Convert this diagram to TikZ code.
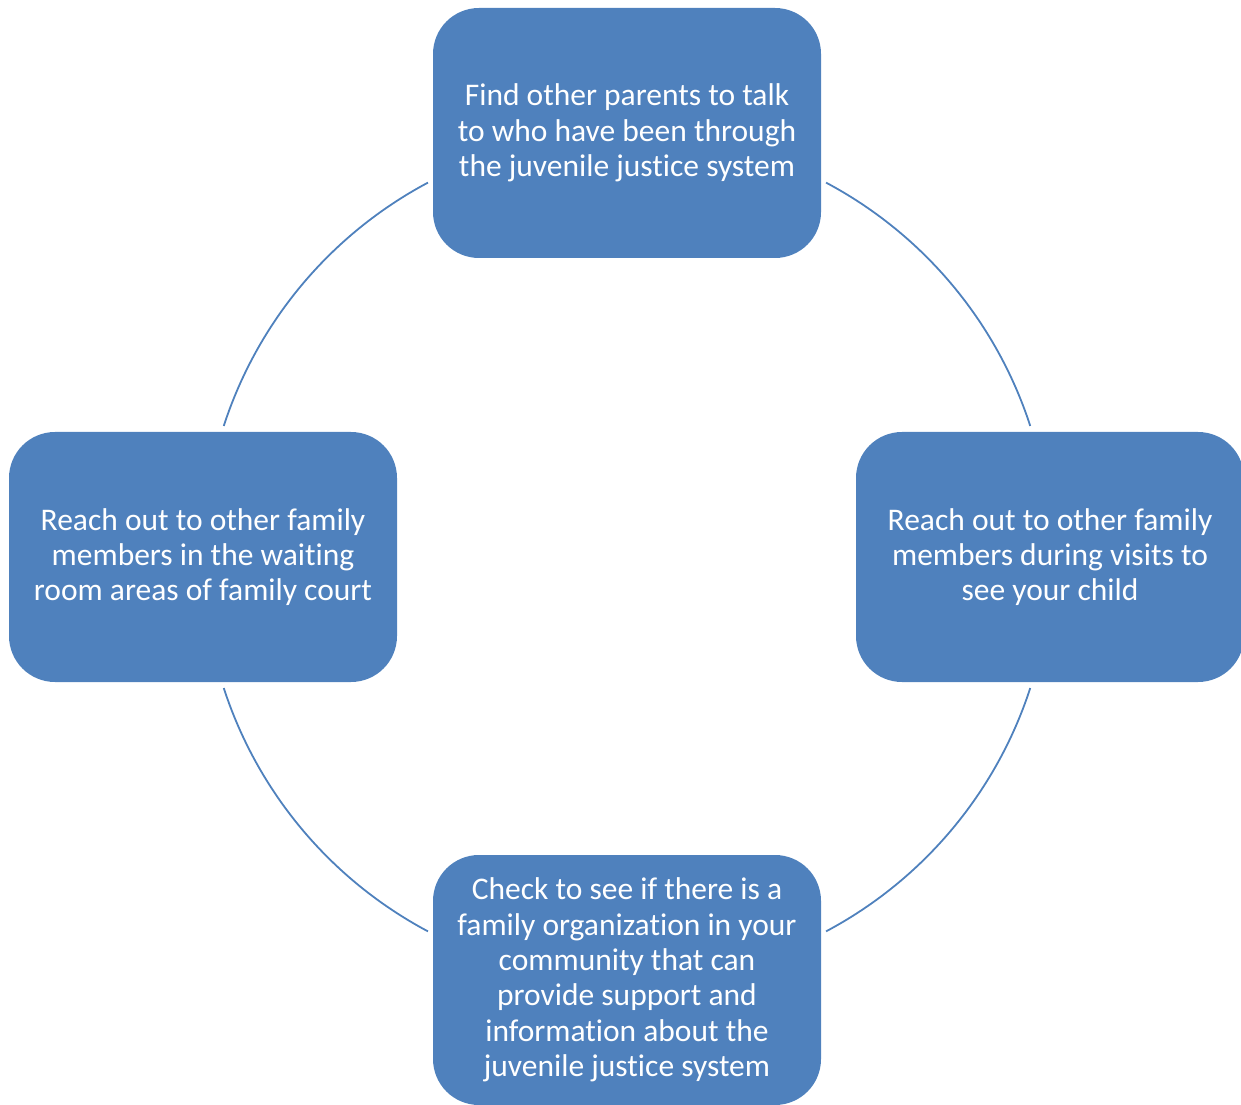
\documentclass[tikz,border=0pt]{standalone}
\usepackage{fontspec}
\setmainfont[Ligatures=NoCommon]{Carlito}
\definecolor{boxblue}{HTML}{4F81BD}
\definecolor{ringblue}{HTML}{4F81BD}
\begin{document}
\begin{tikzpicture}[
  stepbox/.style={rectangle, rounded corners=46pt, fill=boxblue, draw=none,
    minimum width=388pt, minimum height=250pt, inner sep=0pt,
    text=white, align=center, font=\fontsize{31.5pt}{35.3pt}\selectfont},
  ring/.style={draw=ringblue, line width=1.8pt}
]
\useasboundingbox (0pt,0pt) rectangle (1241pt,1104pt);
\clip (0pt,0pt) rectangle (1241pt,1104pt);
\coordinate (c) at (627pt,547pt);
\node[stepbox] (top) at (627pt,971pt) {Find other parents to talk\\to who have been through\\the juvenile justice system};
\node[stepbox] (left) at (203pt,547pt) {Reach out to other family\\members in the waiting\\room areas of family court};
\node[stepbox] (right) at (1050pt,547pt) {Reach out to other family\\members during visits to\\see your child};
\node[stepbox] (bottom) at (627pt,124pt) {Check to see if there is a\\family organization in your\\community that can\\provide support and\\information about the\\juvenile justice system};
\draw[ring] (c) ++(118:424pt) arc[start angle=118, end angle=162, radius=424pt];
\draw[ring] (c) ++(18:424pt) arc[start angle=18, end angle=62, radius=424pt];
\draw[ring] (c) ++(198:424pt) arc[start angle=198, end angle=242, radius=424pt];
\draw[ring] (c) ++(298:424pt) arc[start angle=298, end angle=342, radius=424pt];
\end{tikzpicture}
\end{document}
